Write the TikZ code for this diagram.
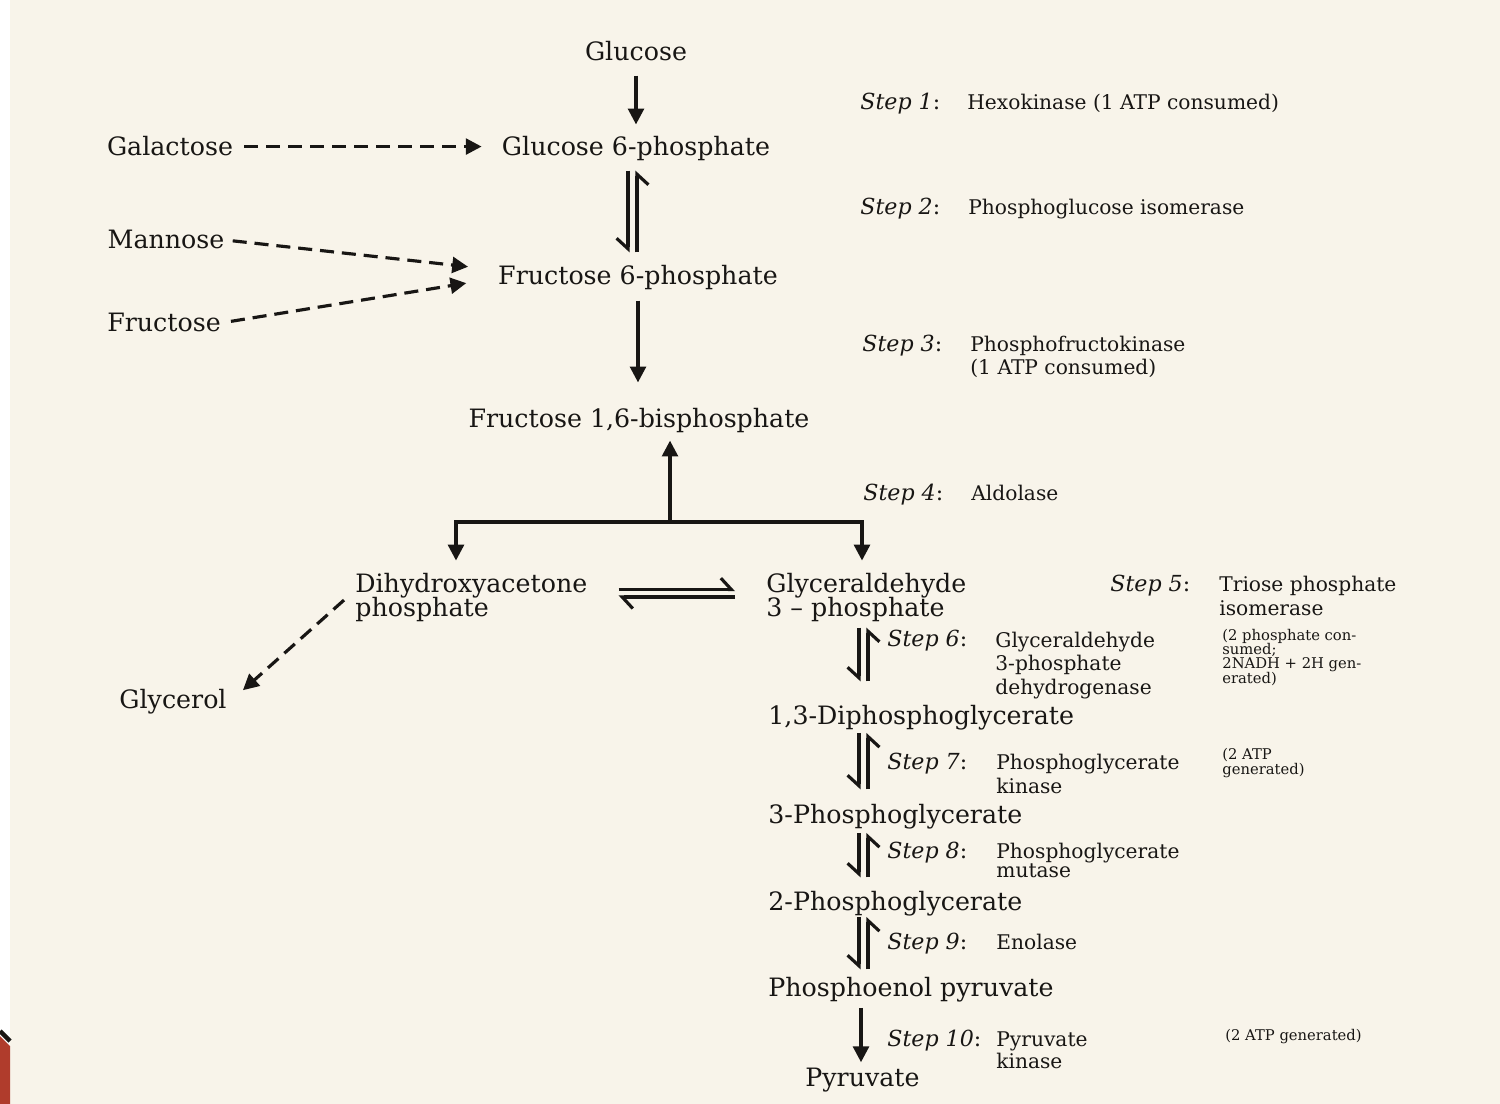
\documentclass[tikz,border=0pt]{standalone}
\usepackage{fontspec}
\setmainfont{DejaVu Serif}
\usetikzlibrary{arrows.meta}

\definecolor{paper}{RGB}{248,244,234}
\definecolor{ink}{RGB}{24,22,20}
\definecolor{cornerred}{RGB}{176,60,44}
\newcommand{\tightlines}{\lineskiplimit=-20pt\relax}

\tikzset{
    compound/.style={font=\fontsize{14.4}{13.6}\selectfont\tightlines, inner sep=0pt, align=left, text=ink},
    steplbl/.style={font=\fontsize{12.6}{14}\selectfont, inner sep=0pt, anchor=base west, text=ink},
    enzyme/.style={font=\fontsize{11.5}{13.3}\selectfont, inner sep=0pt, anchor=base west, align=left, text=ink},
    note/.style={font=\fontsize{8.4}{8.1}\selectfont\tightlines, inner sep=0pt, anchor=base west, align=left, text=ink},
    arrow/.style={draw=ink, line width=1.8pt, -{Triangle[length=9pt,width=9pt]}},
    dasharrow/.style={arrow, dash pattern=on 8pt off 4.5pt},
    harpv/.style={draw=ink, line width=1.8pt, -{Straight Barb[harpoon,swap,length=6pt,width=13pt]}},
    harph/.style={draw=ink, line width=1.8pt, -{Straight Barb[harpoon,length=6pt,width=13pt]}}
}

\begin{document}
\begin{tikzpicture}[x=0.02cm, y=-0.02cm]
    % page
    \useasboundingbox (0,0) rectangle (1500,1104);
    \fill[paper] (0,0) rectangle (1500,1104);
    \fill[white] (0,0) rectangle (10,1104);
    \fill[cornerred] (0,1036) -- (10,1046) -- (10,1104) -- (0,1104) -- cycle;
    \draw[ink, line width=2.5pt] (0,1031) -- (10,1041);

    % hexose part
    \node[compound, anchor=base] (glucose) at (636,61) {Glucose};
    \node[compound, anchor=base] (g6p) at (636,156) {Glucose 6-phosphate};
    \node[compound, anchor=base] (galactose) at (170,156) {Galactose};
    \node[compound, anchor=base] (mannose) at (166,249) {Mannose};
    \node[compound, anchor=base] (fructose) at (164,332) {Fructose};
    \node[compound, anchor=base] (f6p) at (638,285) {Fructose 6-phosphate};
    \node[compound, anchor=base] (fbp) at (639,428) {Fructose 1,6-bisphosphate};

    % trioses (base = last line)
    \node[compound, anchor=base west] (dhap) at (355,616) {Dihydroxyacetone\\phosphate};
    \node[compound, anchor=base west] (g3p) at (766,616) {Glyceraldehyde\\3 -- phosphate};
    \node[compound, anchor=base] (glycerol) at (173,708) {Glycerol};

    % lower chain
    \node[compound, anchor=base west] (bpg13) at (768,724) {1,3-Diphosphoglycerate};
    \node[compound, anchor=base west] (pg3) at (768,823) {3-Phosphoglycerate};
    \node[compound, anchor=base west] (pg2) at (768,910) {2-Phosphoglycerate};
    \node[compound, anchor=base west] (pep) at (768,996) {Phosphoenol pyruvate};
    \node[compound, anchor=base west] (pyr) at (805,1086) {Pyruvate};

    % steps and enzymes
    \node[steplbl] (s1) at (860,110) {\textit{Step 1}:};
    \node[enzyme] (e1) at (967,110) {Hexokinase (1 ATP consumed)};
    \node[steplbl] (s2) at (860,215) {\textit{Step 2}:};
    \node[enzyme] (e2) at (968,215) {Phosphoglucose isomerase};
    \node[steplbl] (s3) at (862,352) {\textit{Step 3}:};
    \node[enzyme] (e3) at (970,375) {Phosphofructokinase\\(1 ATP consumed)};
    \node[steplbl] (s4) at (863,500) {\textit{Step 4}:};
    \node[enzyme] (e4) at (971,500) {Aldolase};
    \node[steplbl] (s5) at (1110,591) {\textit{Step 5}:};
    \node[enzyme] (e5) at (1219,615) {Triose phosphate\\isomerase};
    \node[steplbl] (s6) at (887,646) {\textit{Step 6}:};
    \node[enzyme] (e6) at (995,694) {Glyceraldehyde\\3-phosphate\\dehydrogenase};
    \node[note] (n6) at (1222,683) {(2 phosphate con-\\sumed;\\2NADH + 2H gen-\\erated)};
    \node[steplbl] (s7) at (887,769) {\textit{Step 7}:};
    \node[enzyme] (e7) at (996,793) {Phosphoglycerate\\kinase};
    \node[note] (n7) at (1222,774) {(2 ATP\\generated)};
    \node[steplbl] (s8) at (887,858) {\textit{Step 8}:};
    \node[enzyme] (e8) at (996,877) {Phosphoglycerate\\[-2.5pt]mutase};
    \node[steplbl] (s9) at (887,949) {\textit{Step 9}:};
    \node[enzyme] (e9) at (996,949) {Enolase};
    \node[steplbl] (s10) at (887,1046) {\textit{Step 10}:};
    \node[enzyme] (e10) at (996,1068) {Pyruvate\\[-0.8pt]kinase};
    \node[note] (n10) at (1225,1040) {(2 ATP generated)};

    % arrow columns
    \coordinate (topL) at (628,0);
    \coordinate (topR) at (637,0);
    \coordinate (colL) at (859,0);
    \coordinate (colR) at (868,0);
    \coordinate (colP) at (861,0);
    \coordinate (split) at (670,522);
    \coordinate (forkL) at (456,522);
    \coordinate (forkR) at (862,522);

    % hexose arrows
    \draw[arrow, shorten <=0.28cm, shorten >=0.24cm] (glucose.south) -- (glucose.south |- g6p.north);
    \draw[dasharrow, shorten <=0.22cm, shorten >=0.4cm] (galactose.east) -- (galactose.east -| g6p.west);
    \draw[harpv, shorten <=0.18cm, shorten >=0.26cm] (topL |- g6p.south) -- (topL |- f6p.north);
    \draw[harpv, shorten <=0.26cm, shorten >=0.18cm] (topR |- f6p.north) -- (topR |- g6p.south);
    \draw[dasharrow, shorten <=0.16cm, shorten >=0.6cm] (mannose.east) -- ([yshift=0.16cm]f6p.west);
    \draw[dasharrow, shorten <=0.2cm, shorten >=0.64cm] (fructose.east) -- (f6p.west);
    \draw[arrow, shorten <=0.2cm, shorten >=0.52cm] (f6p.south) -- (f6p.south |- fbp.north);

    % aldolase split
    \draw[arrow, shorten >=0.14cm] (split) -- (split |- fbp.south);
    \draw[arrow, shorten >=0.24cm] (split) -- (forkL) -- (forkL |- dhap.north);
    \draw[arrow, shorten >=0.24cm] (split) -- (forkR) -- (forkR |- g3p.north);

    % triose isomerase and glycerol
    \draw[harph, shorten <=0.62cm, shorten >=0.62cm] ([yshift=0.15cm]dhap.east) -- ([yshift=0.15cm]dhap.east -| g3p.west);
    \draw[harph, shorten <=0.62cm, shorten >=0.62cm] (dhap.east -| g3p.west) -- (dhap.east);
    \draw[dasharrow] ([xshift=-0.22cm,yshift=-0.06cm]dhap.west) -- ([xshift=0.32cm,yshift=0.22cm]glycerol.east);

    % lower chain arrows
    \draw[harpv, shorten <=0.12cm, shorten >=0.46cm] (colL |- g3p.south) -- (colL |- bpg13.north);
    \draw[harpv, shorten <=0.46cm, shorten >=0.12cm] (colR |- bpg13.north) -- (colR |- g3p.south);
    \draw[harpv, shorten <=0.06cm, shorten >=0.28cm] (colL |- bpg13.south) -- (colL |- pg3.north);
    \draw[harpv, shorten <=0.28cm, shorten >=0.06cm] (colR |- pg3.north) -- (colR |- bpg13.south);
    \draw[harpv, shorten <=0.08cm, shorten >=0.26cm] (colL |- pg3.south) -- (colL |- pg2.north);
    \draw[harpv, shorten <=0.26cm, shorten >=0.08cm] (colR |- pg2.north) -- (colR |- pg3.south);
    \draw[harpv, shorten <=0.02cm, shorten >=0.14cm] (colL |- pg2.south) -- (colL |- pep.north);
    \draw[harpv, shorten <=0.14cm, shorten >=0.02cm] (colR |- pep.north) -- (colR |- pg2.south);
    \draw[arrow, shorten <=0.12cm, shorten >=0.1cm] (colP |- pep.south) -- (colP |- pyr.north);
\end{tikzpicture}
\end{document}
